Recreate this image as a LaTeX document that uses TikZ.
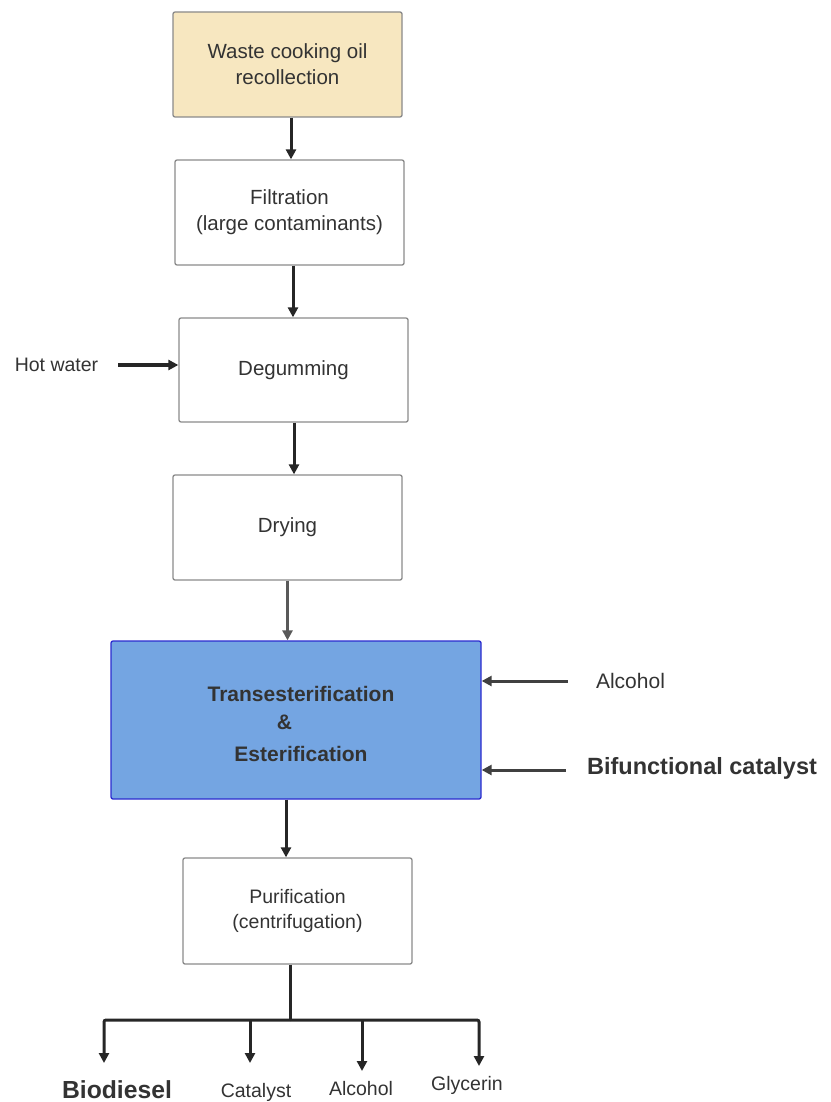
\documentclass[tikz,border=0pt]{standalone}
\usepackage{fontspec}
\setmainfont{Liberation Sans}
\usepackage{tikz}
\usetikzlibrary{arrows.meta,positioning}
\definecolor{wcofill}{HTML}{F7E7C0}
\definecolor{reacfill}{HTML}{74A5E2}
\definecolor{reacline}{HTML}{2B2BCF}
\definecolor{txt}{HTML}{333333}
\definecolor{boxline}{HTML}{8A8A8A}
\tikzstyle{stage}=[draw=boxline, line width=1.3pt, rounded corners=2pt, minimum width=229pt, minimum height=105pt, inner sep=0pt, align=center, text=txt, font=\fontsize{20.5}{26}\selectfont]
\tikzstyle{flow}=[-{Triangle[length=10pt,width=10pt]}, line width=3pt, draw=black!85]
\tikzstyle{lbl}=[text=txt, inner sep=0pt, font=\fontsize{19.5}{24}\selectfont]

\begin{document}
\begin{tikzpicture}
 [x=1pt, y=-1pt]
 \useasboundingbox (0,0) rectangle (830,1102);
 % process stages
 \node[stage, fill=wcofill] (wco) at (287.5,64.5) {Waste cooking oil\\recollection};
 \node[stage] (filt) at (289.5,212.5) {Filtration\\(large contaminants)};
 \node[stage, minimum height=104pt] (degum) at (293.5,370) {Degumming};
 \node[stage] (dry) at (287.5,527.5) {Drying};
 \node[stage, fill=reacfill, draw=reacline, minimum width=370pt, minimum height=158pt, font=\fontsize{21}{26}\selectfont\bfseries] (reac) at (296,720)
   {\mbox{}\\[-2pt]\hspace*{10pt}Transesterification\\[2pt]\hspace*{-23pt}\&\\[6pt]\hspace*{10pt}Esterification};
 \node[stage, minimum height=106pt, font=\fontsize{19.5}{25}\selectfont] (purif) at (297.5,911) {Purification\\(centrifugation)};
 % inputs
 \node[lbl] (water) at (56.5,365) {Hot water};
 \node[lbl, font=\fontsize{21}{25}\selectfont] (alc) at (630.5,681) {Alcohol};
 \node[lbl, font=\fontsize{23.5}{28}\selectfont\bfseries] (bif) at (702,768) {Bifunctional catalyst};
 % products
 \node[lbl, font=\fontsize{24.7}{30}\selectfont\bfseries] (bio) at (117,1090) {Biodiesel};
 \node[lbl] (cat) at (256,1092) {Catalyst};
 \node[lbl] (alcout) at (361,1089) {Alcohol};
 \node[lbl] (gly) at (467,1085) {Glycerin};
 \coordinate (split) at (290,1020);
 \coordinate (tbio) at (104,1063);
 \coordinate (tcat) at (250,1063);
 \coordinate (talc) at (362,1071);
 \coordinate (tgly) at (479,1066);
 % main line
 \draw[flow] ([xshift=3.5pt]wco.south) -- ([xshift=3.5pt]wco.south |- filt.north);
 \draw[flow] ([xshift=3.5pt]filt.south) -- ([xshift=3.5pt]filt.south |- degum.north);
 \draw[flow] ([xshift=0.5pt]degum.south) -- ([xshift=0.5pt]degum.south |- dry.north);
 \draw[flow, draw=black!65] (dry.south) -- (dry.south |- reac.north);
 \draw[flow] ([xshift=-10pt]reac.south) -- ([xshift=-10pt]reac.south |- purif.north);
 % side feeds
 \draw[flow, line width=3.5pt] ([xshift=20pt]water.east) -- (water.east -| degum.west);
 \draw[flow, draw=black!75] ([xshift=-28pt]alc.west) -- (reac.east |- alc.west);
 \draw[flow, draw=black!75] ([xshift=-21pt]bif.west |- 0,770) -- (reac.east |- 0,770);
 % split to products
 \draw[line width=3pt, draw=black!85] (purif.south -| split) -- (split);
 \draw[flow, rounded corners=2pt] (split) -| (tbio);
 \draw[flow, rounded corners=2pt] (split) -| (tgly);
 \draw[flow] (split -| tcat) -- (tcat);
 \draw[flow] (split -| talc) -- (talc);
\end{tikzpicture}
\end{document}
